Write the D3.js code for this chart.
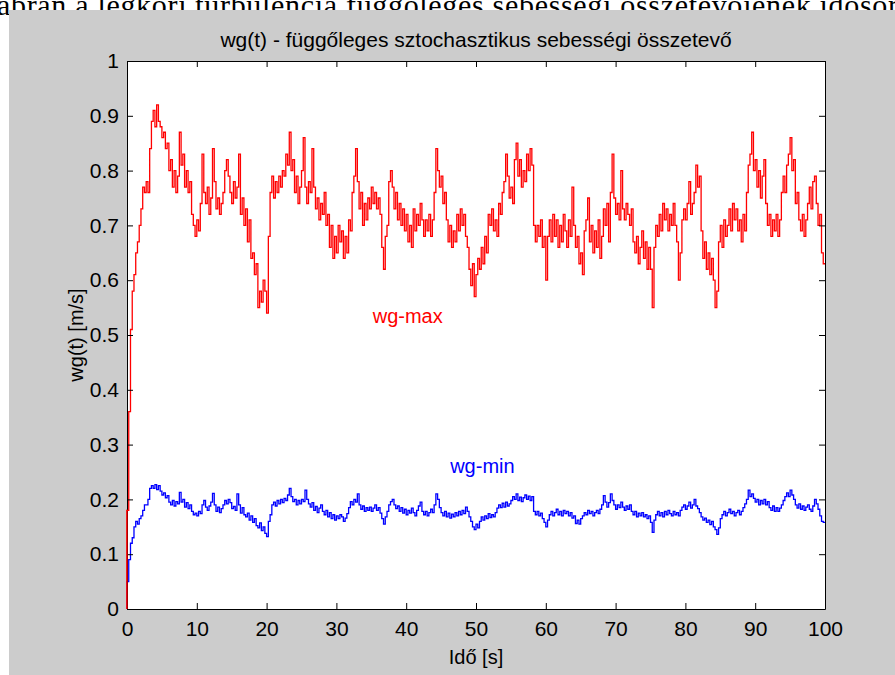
<!DOCTYPE html>
<html>
<head>
<meta charset="utf-8">
<script src="https://cdn.jsdelivr.net/npm/d3@7"></script>
<style>
  body { margin: 0; background: #fff; }
  svg { display: block; }
</style>
</head>
<body>
<div id="chart"></div>
<script>
// sampling step of the two series (seconds)
const timeStep = 0.25;

// wg-max, one row = 5 s
const wgMax = [
  0, 0.18, 0.36, 0.51, 0.58, 0.61, 0.65, 0.67, 0.70, 0.73, 0.77, 0.76, 0.78, 0.76, 0.84, 0.89, 0.91, 0.88, 0.92, 0.89,
  0.88, 0.86, 0.87, 0.84, 0.85, 0.80, 0.82, 0.77, 0.80, 0.76, 0.79, 0.87, 0.81, 0.83, 0.77, 0.80, 0.76, 0.78, 0.72, 0.70,
  0.68, 0.71, 0.69, 0.74, 0.83, 0.76, 0.74, 0.77, 0.72, 0.75, 0.84, 0.78, 0.73, 0.75, 0.72, 0.74, 0.76, 0.80, 0.82, 0.79,
  0.76, 0.74, 0.78, 0.75, 0.77, 0.83, 0.72, 0.75, 0.70, 0.73, 0.67, 0.71, 0.64, 0.65, 0.61, 0.63, 0.55, 0.58, 0.56, 0.60,
  0.58, 0.54, 0.68, 0.76, 0.79, 0.75, 0.78, 0.76, 0.79, 0.77, 0.80, 0.79, 0.83, 0.81, 0.87, 0.80, 0.82, 0.76, 0.79, 0.74,
  0.77, 0.80, 0.86, 0.77, 0.74, 0.78, 0.76, 0.84, 0.77, 0.73, 0.75, 0.71, 0.74, 0.72, 0.76, 0.70, 0.72, 0.66, 0.70, 0.64,
  0.68, 0.65, 0.70, 0.67, 0.69, 0.64, 0.68, 0.65, 0.71, 0.69, 0.76, 0.79, 0.84, 0.78, 0.73, 0.76, 0.70, 0.74, 0.71, 0.75,
  0.73, 0.77, 0.74, 0.76, 0.73, 0.75, 0.72, 0.66, 0.62, 0.68, 0.70, 0.78, 0.80, 0.77, 0.73, 0.76, 0.71, 0.74, 0.70, 0.73,
  0.69, 0.72, 0.67, 0.70, 0.66, 0.73, 0.69, 0.72, 0.70, 0.74, 0.71, 0.68, 0.71, 0.69, 0.72, 0.68, 0.71, 0.76, 0.84, 0.80,
  0.77, 0.79, 0.74, 0.76, 0.71, 0.67, 0.70, 0.66, 0.69, 0.67, 0.72, 0.69, 0.73, 0.70, 0.72, 0.68, 0.66, 0.62, 0.59, 0.63,
  0.57, 0.61, 0.64, 0.62, 0.66, 0.63, 0.68, 0.65, 0.72, 0.70, 0.73, 0.69, 0.71, 0.68, 0.74, 0.72, 0.76, 0.78, 0.83, 0.79,
  0.75, 0.77, 0.74, 0.82, 0.85, 0.79, 0.82, 0.77, 0.80, 0.78, 0.83, 0.80, 0.84, 0.81, 0.70, 0.67, 0.70, 0.68, 0.71, 0.66,
  0.68, 0.60, 0.68, 0.71, 0.67, 0.72, 0.68, 0.71, 0.66, 0.70, 0.67, 0.72, 0.69, 0.66, 0.71, 0.68, 0.77, 0.70, 0.66, 0.68,
  0.63, 0.65, 0.61, 0.69, 0.71, 0.75, 0.67, 0.70, 0.65, 0.69, 0.66, 0.71, 0.64, 0.68, 0.73, 0.70, 0.74, 0.67, 0.76, 0.83,
  0.75, 0.72, 0.74, 0.71, 0.80, 0.73, 0.71, 0.74, 0.72, 0.70, 0.73, 0.67, 0.65, 0.68, 0.63, 0.66, 0.69, 0.64, 0.67, 0.62,
  0.66, 0.62, 0.55, 0.66, 0.70, 0.68, 0.72, 0.69, 0.74, 0.71, 0.73, 0.69, 0.72, 0.70, 0.74, 0.70, 0.67, 0.60, 0.65, 0.71,
  0.73, 0.71, 0.74, 0.78, 0.72, 0.74, 0.76, 0.81, 0.77, 0.79, 0.69, 0.64, 0.67, 0.62, 0.65, 0.61, 0.64, 0.60, 0.55, 0.58,
  0.67, 0.70, 0.66, 0.71, 0.68, 0.70, 0.73, 0.69, 0.74, 0.71, 0.73, 0.69, 0.71, 0.67, 0.72, 0.69, 0.76, 0.81, 0.83, 0.87,
  0.80, 0.82, 0.77, 0.80, 0.75, 0.79, 0.82, 0.74, 0.70, 0.72, 0.68, 0.71, 0.69, 0.72, 0.68, 0.71, 0.76, 0.79, 0.76, 0.81,
  0.83, 0.86, 0.80, 0.82, 0.74, 0.76, 0.71, 0.69, 0.72, 0.68, 0.71, 0.74, 0.77, 0.73, 0.78, 0.79, 0.74, 0.70, 0.72, 0.65,
  0.63
];

// wg-min, one row = 5 s
const wgMin = [
  0, 0.05, 0.09, 0.12, 0.13, 0.15, 0.16, 0.155, 0.165, 0.17, 0.18, 0.19, 0.19, 0.20, 0.22, 0.225, 0.22, 0.227, 0.218, 0.225,
  0.215, 0.208, 0.212, 0.203, 0.207, 0.195, 0.19, 0.198, 0.188, 0.196, 0.192, 0.213, 0.195, 0.20, 0.186, 0.194, 0.183, 0.19, 0.178, 0.172,
  0.175, 0.17, 0.178, 0.174, 0.19, 0.198, 0.186, 0.18, 0.188, 0.195, 0.211, 0.19, 0.178, 0.186, 0.176, 0.183, 0.19, 0.198, 0.192, 0.20,
  0.194, 0.183, 0.187, 0.18, 0.21, 0.19, 0.175, 0.185, 0.172, 0.168, 0.175, 0.162, 0.17, 0.158, 0.165, 0.152, 0.148, 0.157, 0.143, 0.15,
  0.138, 0.132, 0.16, 0.172, 0.19, 0.195, 0.188, 0.198, 0.192, 0.20, 0.194, 0.202, 0.198, 0.208, 0.22, 0.205, 0.196, 0.20, 0.19, 0.198,
  0.192, 0.20, 0.196, 0.217, 0.20, 0.192, 0.186, 0.194, 0.18, 0.187, 0.176, 0.184, 0.19, 0.178, 0.172, 0.18, 0.168, 0.176, 0.165, 0.172,
  0.162, 0.17, 0.165, 0.172, 0.168, 0.16, 0.166, 0.174, 0.185, 0.196, 0.19, 0.20, 0.195, 0.21, 0.19, 0.182, 0.188, 0.178, 0.185, 0.18,
  0.186, 0.178, 0.184, 0.19, 0.18, 0.185, 0.175, 0.165, 0.155, 0.168, 0.178, 0.19, 0.196, 0.20, 0.19, 0.183, 0.188, 0.178, 0.185, 0.175,
  0.182, 0.172, 0.18, 0.175, 0.184, 0.176, 0.17, 0.18, 0.188, 0.195, 0.178, 0.172, 0.178, 0.17, 0.176, 0.182, 0.176, 0.19, 0.21, 0.20,
  0.185, 0.176, 0.17, 0.178, 0.168, 0.175, 0.166, 0.173, 0.168, 0.176, 0.17, 0.178, 0.172, 0.18, 0.174, 0.186, 0.178, 0.168, 0.16, 0.15,
  0.145, 0.155, 0.148, 0.16, 0.168, 0.162, 0.17, 0.165, 0.174, 0.167, 0.172, 0.168, 0.176, 0.184, 0.19, 0.185, 0.193, 0.186, 0.195, 0.188,
  0.192, 0.198, 0.205, 0.20, 0.21, 0.198, 0.204, 0.196, 0.203, 0.208, 0.20, 0.206, 0.198, 0.205, 0.178, 0.172, 0.178, 0.17, 0.175, 0.165,
  0.158, 0.15, 0.162, 0.172, 0.178, 0.17, 0.176, 0.182, 0.172, 0.178, 0.17, 0.18, 0.174, 0.178, 0.17, 0.176, 0.166, 0.17, 0.156, 0.162,
  0.155, 0.165, 0.17, 0.176, 0.172, 0.18, 0.174, 0.178, 0.17, 0.176, 0.18, 0.174, 0.182, 0.19, 0.207, 0.195, 0.186, 0.194, 0.21, 0.198,
  0.19, 0.182, 0.19, 0.185, 0.195, 0.186, 0.18, 0.188, 0.182, 0.19, 0.178, 0.172, 0.178, 0.168, 0.175, 0.17, 0.176, 0.168, 0.172, 0.165,
  0.17, 0.158, 0.14, 0.162, 0.172, 0.178, 0.17, 0.176, 0.168, 0.178, 0.172, 0.18, 0.174, 0.17, 0.178, 0.172, 0.176, 0.17, 0.18, 0.186,
  0.19, 0.182, 0.188, 0.195, 0.184, 0.19, 0.20, 0.188, 0.183, 0.176, 0.168, 0.162, 0.166, 0.158, 0.162, 0.154, 0.16, 0.15, 0.145, 0.136,
  0.148, 0.165, 0.172, 0.178, 0.17, 0.176, 0.182, 0.174, 0.178, 0.17, 0.176, 0.18, 0.172, 0.178, 0.185, 0.192, 0.20, 0.217, 0.205, 0.21,
  0.202, 0.195, 0.20, 0.19, 0.198, 0.192, 0.20, 0.19, 0.196, 0.185, 0.18, 0.188, 0.178, 0.185, 0.178, 0.184, 0.19, 0.198, 0.205, 0.212,
  0.205, 0.217, 0.208, 0.20, 0.19, 0.184, 0.192, 0.182, 0.188, 0.18, 0.186, 0.19, 0.182, 0.178, 0.188, 0.20, 0.192, 0.182, 0.17, 0.16,
  0.158
];

const xTicks = [0, 10, 20, 30, 40, 50, 60, 70, 80, 90, 100];
const yTicks = [0, 0.1, 0.2, 0.3, 0.4, 0.5, 0.6, 0.7, 0.8, 0.9, 1];

const captionText = "ábrán a légköri turbulencia függőleges sebességi összetevőjének idősora";
const titleText = "wg(t) - függőleges sztochasztikus sebességi összetevő";
const xLabel = "Idő [s]";
const yLabel = "wg(t) [m/s]";

// text labels placed in data coordinates
const seriesLabels = [
  { name: "wg-max", t: 35.2, v: 0.522, color: "#ff0000" },
  { name: "wg-min", t: 46.3, v: 0.248, color: "#0000ff" }
];

const width = 895, height = 675;
const margin = { top: 61, right: 70, bottom: 66, left: 127 };
const uiFont = "'Liberation Sans', Arial, sans-serif";

const svg = d3.select("#chart").append("svg")
  .attr("width", width)
  .attr("height", height);

// caption of the surrounding document, mostly hidden by the figure
svg.append("text")
  .attr("x", -3)
  .attr("y", 15)
  .attr("textLength", 915)
  .attr("lengthAdjust", "spacing")
  .style("font-family", "'Liberation Serif', 'Times New Roman', serif")
  .style("font-size", "30px")
  .attr("fill", "#000")
  .text(captionText);

// grey figure background
svg.append("rect")
  .attr("x", 9)
  .attr("y", 10)
  .attr("width", width - 9)
  .attr("height", height - 10)
  .attr("fill", "#cccccc");

const x = d3.scaleLinear().domain([0, 100]).range([margin.left, width - margin.right]);
const y = d3.scaleLinear().domain([0, 1]).range([height - margin.bottom, margin.top]);

svg.append("rect")
  .attr("x", x(0))
  .attr("y", y(1))
  .attr("width", x(100) - x(0))
  .attr("height", y(0) - y(1))
  .attr("fill", "#fff");

// the simulation output is held between samples, so draw it as stairs
const line = d3.line()
  .x((d, i) => x(i * timeStep))
  .y(d => y(d))
  .curve(d3.curveStepBefore);

svg.append("path")
  .datum(wgMin)
  .attr("d", line)
  .attr("fill", "none")
  .attr("stroke", "#0000ff")
  .attr("stroke-width", 1.3);

svg.append("path")
  .datum(wgMax)
  .attr("d", line)
  .attr("fill", "none")
  .attr("stroke", "#ff0000")
  .attr("stroke-width", 1.3);

// axes, ticks pointing inwards like matlab
const tickLen = 6;
function styleAxis(g) {
  g.selectAll("path, line").attr("stroke", "#000");
  g.selectAll("text")
    .attr("fill", "#000")
    .style("font-family", uiFont)
    .style("font-size", "21px");
}

svg.append("g")
  .attr("transform", `translate(0,${y(0)})`)
  .call(d3.axisBottom(x).tickValues(xTicks).tickSize(-tickLen).tickSizeOuter(0).tickPadding(12).tickFormat(d => String(d)))
  .call(styleAxis);

svg.append("g")
  .attr("transform", `translate(0,${y(1)})`)
  .call(d3.axisTop(x).tickValues(xTicks).tickSize(-tickLen).tickSizeOuter(0).tickFormat(""))
  .call(styleAxis);

svg.append("g")
  .attr("transform", `translate(${x(0)},0)`)
  .call(d3.axisLeft(y).tickValues(yTicks).tickSize(-tickLen).tickSizeOuter(0).tickPadding(8).tickFormat(d => String(d)))
  .call(styleAxis);

svg.append("g")
  .attr("transform", `translate(${x(100)},0)`)
  .call(d3.axisRight(y).tickValues(yTicks).tickSize(-tickLen).tickSizeOuter(0).tickFormat(""))
  .call(styleAxis);

// red line runs up the left axis at t = 0
svg.append("path")
  .datum(wgMax.slice(0, 2))
  .attr("d", line)
  .attr("fill", "none")
  .attr("stroke", "#ff0000")
  .attr("stroke-width", 1.3);

svg.selectAll(".series-label")
  .data(seriesLabels)
  .enter().append("text")
  .attr("class", "series-label")
  .attr("x", d => x(d.t))
  .attr("y", d => y(d.v))
  .attr("fill", d => d.color)
  .style("font-family", uiFont)
  .style("font-size", "20px")
  .text(d => d.name);

svg.append("text")
  .attr("x", (x(0) + x(100)) / 2)
  .attr("y", 47)
  .attr("text-anchor", "middle")
  .style("font-family", uiFont)
  .style("font-size", "21px")
  .text(titleText);

svg.append("text")
  .attr("x", (x(0) + x(100)) / 2)
  .attr("y", 664)
  .attr("text-anchor", "middle")
  .style("font-family", uiFont)
  .style("font-size", "20px")
  .text(xLabel);

svg.append("text")
  .attr("transform", `translate(83,${(y(0) + y(1)) / 2}) rotate(-90)`)
  .attr("text-anchor", "middle")
  .style("font-family", uiFont)
  .style("font-size", "20px")
  .text(yLabel);
</script>
</body>
</html>
